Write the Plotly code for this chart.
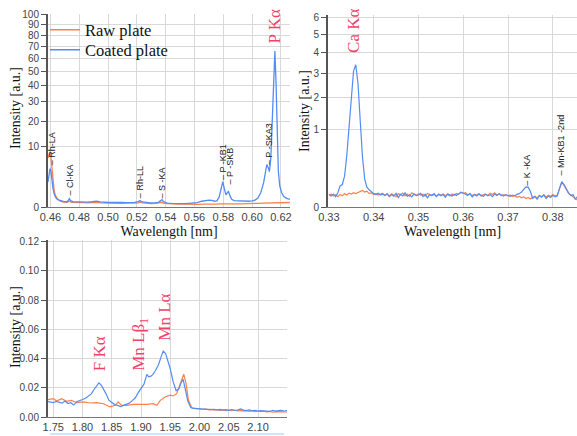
import numpy as np
import plotly.graph_objects as go

# ---------------- Panel A: P region (0.458-0.626 nm), sqrt intensity scale
wl_a_coated = [
    0.4583, 0.4590, 0.4597, 0.4603, 0.4610, 0.4617, 0.4625, 0.4635, 0.4648, 0.4665,
    0.4690, 0.4710, 0.4722, 0.4731, 0.4740, 0.4755, 0.4775, 0.4800, 0.4830, 0.4860,
    0.4890, 0.4920, 0.4945, 0.4975, 0.5005, 0.5035, 0.5065, 0.5095, 0.5125, 0.5155,
    0.5185, 0.5210, 0.5222, 0.5235, 0.5265, 0.5295, 0.5325, 0.5350, 0.5365, 0.5374,
    0.5385, 0.5410, 0.5440, 0.5470, 0.5500, 0.5530, 0.5560, 0.5590, 0.5620, 0.5650,
    0.5675, 0.5700, 0.5720, 0.5740, 0.5755, 0.5770, 0.5785, 0.5796, 0.5806, 0.5818,
    0.5828, 0.5836, 0.5846, 0.5858, 0.5875, 0.5900, 0.5925, 0.5950, 0.5975, 0.6000,
    0.6020, 0.6040, 0.6060, 0.6080, 0.6090, 0.6102, 0.6112, 0.6120, 0.6130, 0.6140,
    0.6150, 0.6158, 0.6166, 0.6174, 0.6182, 0.6192, 0.6205, 0.6220, 0.6240, 0.6262,
]
int_a_coated = [
    1.70, 2.90, 4.00, 3.60, 1.90, 1.00, 0.50, 0.26, 0.15, 0.11,
    0.085, 0.075, 0.10, 0.19, 0.11, 0.08, 0.075, 0.07, 0.072, 0.065,
    0.075, 0.095, 0.07, 0.06, 0.055, 0.06, 0.05, 0.055, 0.05, 0.05,
    0.06, 0.08, 0.11, 0.07, 0.05, 0.045, 0.05, 0.06, 0.11, 0.15,
    0.08, 0.04, 0.035, 0.03, 0.035, 0.03, 0.035, 0.04, 0.05, 0.09,
    0.12, 0.13, 0.12, 0.09, 0.10, 0.25, 0.90, 1.75, 1.00, 0.40,
    0.55, 0.65, 0.35, 0.16, 0.11, 0.10, 0.09, 0.10, 0.09, 0.10,
    0.13, 0.22, 0.55, 1.60, 3.20, 4.90, 4.20, 3.40, 6.50, 18.0,
    45.0, 66.0, 42.0, 12.0, 3.50, 1.20, 0.55, 0.30, 0.20, 0.16,
]
wl_a_raw = [
    0.4583, 0.4590, 0.4597, 0.4604, 0.4611, 0.4618, 0.4626, 0.4635, 0.4648, 0.4665,
    0.4690, 0.4715, 0.4731, 0.4745, 0.4770, 0.4800, 0.4830, 0.4860, 0.4890, 0.4920,
    0.4950, 0.4980, 0.5010, 0.5040, 0.5070, 0.5100, 0.5130, 0.5160, 0.5190, 0.5210,
    0.5222, 0.5240, 0.5270, 0.5300, 0.5330, 0.5360, 0.5374, 0.5390, 0.5420, 0.5450,
    0.5480, 0.5510, 0.5540, 0.5570, 0.5600, 0.5630, 0.5660, 0.5690, 0.5720, 0.5750,
    0.5780, 0.5810, 0.5840, 0.5870, 0.5900, 0.5930, 0.5960, 0.5990, 0.6020, 0.6050,
    0.6080, 0.6110, 0.6140, 0.6170, 0.6200, 0.6230, 0.6262,
]
int_a_raw = [
    6.5, 7.8, 8.3, 6.5, 3.5, 1.6, 0.7, 0.35, 0.18, 0.10,
    0.065, 0.060, 0.090, 0.060, 0.052, 0.048, 0.050, 0.045, 0.052, 0.060,
    0.048, 0.044, 0.040, 0.045, 0.040, 0.038, 0.042, 0.036, 0.040, 0.048,
    0.065, 0.045, 0.036, 0.032, 0.035, 0.040, 0.060, 0.035, 0.028, 0.025,
    0.022, 0.024, 0.020, 0.022, 0.020, 0.018, 0.022, 0.020, 0.024, 0.022,
    0.026, 0.024, 0.028, 0.026, 0.030, 0.028, 0.032, 0.030, 0.034, 0.036,
    0.040, 0.042, 0.046, 0.044, 0.048, 0.052, 0.055,
]

# ---------------- Panel B: Ca region (0.330-0.3855 nm), sqrt intensity scale
wl_b_start = 0.3300
wl_b_step = 0.0005
int_b_coated = [
    0.026, 0.020, 0.028, 0.018, 0.034, 0.075, 0.085, 0.16, 0.45, 1.05,
    2.05, 3.10, 3.40, 2.55, 1.25, 0.42, 0.13, 0.065, 0.050, 0.038,
    0.030, 0.026, 0.032, 0.024, 0.028, 0.022, 0.030, 0.018, 0.026, 0.020,
    0.031, 0.015, 0.027, 0.021, 0.034, 0.019, 0.025, 0.017, 0.029, 0.022,
    0.024, 0.031, 0.018, 0.027, 0.014, 0.026, 0.023, 0.030, 0.019, 0.028,
    0.021, 0.026, 0.016, 0.029, 0.024, 0.020, 0.027, 0.022, 0.030, 0.036,
    0.033, 0.028, 0.022, 0.031, 0.017, 0.026, 0.020, 0.028, 0.023, 0.019,
    0.027, 0.021, 0.025, 0.018, 0.028, 0.022, 0.030, 0.024, 0.020, 0.026,
    0.022, 0.019, 0.024, 0.021, 0.027, 0.030, 0.038, 0.050, 0.068, 0.066,
    0.040, 0.012, 0.018, 0.010, 0.022, 0.016, 0.024, 0.012, 0.020, 0.015,
    0.023, 0.017, 0.020, 0.060, 0.108, 0.080, 0.050, 0.032, 0.022, 0.026,
    0.010, 0.018,
]
int_b_raw = [
    0.024, 0.028, 0.020, 0.025, 0.018, 0.026, 0.021, 0.030, 0.024, 0.032,
    0.028, 0.034, 0.030, 0.036, 0.040, 0.046, 0.038, 0.042, 0.030, 0.034,
    0.026, 0.030, 0.024, 0.028, 0.032, 0.022, 0.027, 0.020, 0.029, 0.024,
    0.018, 0.030, 0.025, 0.033, 0.021, 0.028, 0.019, 0.034, 0.026, 0.022,
    0.030, 0.024, 0.028, 0.020, 0.031, 0.025, 0.021, 0.027, 0.018, 0.026,
    0.024, 0.029, 0.022, 0.026, 0.020, 0.028, 0.023, 0.031, 0.027, 0.038,
    0.030, 0.034, 0.025, 0.029, 0.022, 0.027, 0.024, 0.030, 0.020, 0.026,
    0.028, 0.022, 0.032, 0.026, 0.034, 0.024, 0.029, 0.021, 0.026, 0.023,
    0.020, 0.024, 0.018, 0.022, 0.016, 0.019, 0.014, 0.017, 0.012, 0.015,
    0.011, 0.016, 0.020, 0.014, 0.022, 0.018, 0.025, 0.017, 0.023, 0.019,
    0.026, 0.021, 0.024, 0.055, 0.100, 0.085, 0.055, 0.035, 0.024, 0.018,
    0.012, 0.008,
]
wl_b = [round(wl_b_start + wl_b_step * i, 4) for i in range(len(int_b_coated))]

# ---------------- Panel C: F / Mn L region (1.741-2.150 nm), linear scale
wl_c_coated = [
    1.741, 1.745, 1.750, 1.755, 1.760, 1.765, 1.770, 1.775, 1.780, 1.785,
    1.790, 1.795, 1.800, 1.805, 1.810, 1.815, 1.820, 1.825, 1.828, 1.832,
    1.836, 1.840, 1.845, 1.850, 1.855, 1.860, 1.865, 1.870, 1.875, 1.880,
    1.885, 1.890, 1.895, 1.900, 1.905, 1.910, 1.913, 1.917, 1.920, 1.925,
    1.930, 1.935, 1.938, 1.942, 1.946, 1.950, 1.955, 1.960, 1.965, 1.968,
    1.972, 1.976, 1.980, 1.985, 1.990, 1.995, 2.000, 2.005, 2.010, 2.015,
    2.020, 2.025, 2.030, 2.035, 2.040, 2.045, 2.050, 2.055, 2.060, 2.065,
    2.070, 2.075, 2.080, 2.085, 2.090, 2.095, 2.100, 2.105, 2.110, 2.115,
    2.120, 2.125, 2.130, 2.135, 2.140, 2.145, 2.150,
]
int_c_coated = [
    0.0105, 0.0100, 0.0098, 0.0107, 0.0100, 0.0095, 0.0110, 0.0092, 0.0098, 0.0082,
    0.0105, 0.0115, 0.0120, 0.0128, 0.0142, 0.0158, 0.0190, 0.0222, 0.0234, 0.0218,
    0.0190, 0.0160, 0.0115, 0.0100, 0.0085, 0.0080, 0.0072, 0.0080, 0.0086, 0.0095,
    0.0112, 0.0130, 0.0165, 0.0195, 0.0225, 0.0292, 0.0275, 0.0280, 0.0290, 0.0320,
    0.0360, 0.0420, 0.0452, 0.0435, 0.0390, 0.0330, 0.0240, 0.0180, 0.0195, 0.0230,
    0.0258, 0.0190, 0.0110, 0.0065, 0.0058, 0.0057, 0.0055, 0.0056, 0.0052, 0.0054,
    0.0050, 0.0053, 0.0048, 0.0052, 0.0047, 0.0050, 0.0046, 0.0051, 0.0045, 0.0048,
    0.0055, 0.0047, 0.0044, 0.0049, 0.0043, 0.0046, 0.0040, 0.0044, 0.0042, 0.0045,
    0.0038, 0.0046, 0.0040, 0.0043, 0.0045, 0.0041, 0.0044,
]
wl_c_raw = [
    1.741, 1.750, 1.756, 1.764, 1.773, 1.781, 1.790, 1.801, 1.813, 1.824,
    1.836, 1.847, 1.856, 1.861, 1.867, 1.876, 1.887, 1.898, 1.910, 1.921,
    1.927, 1.933, 1.941, 1.950, 1.955, 1.961, 1.967, 1.973, 1.977, 1.981,
    1.987, 1.995, 2.000, 2.005, 2.010, 2.015, 2.020, 2.025, 2.030, 2.035,
    2.040, 2.045, 2.050, 2.055, 2.060, 2.065, 2.070, 2.075, 2.080, 2.085,
    2.090, 2.095, 2.100, 2.105, 2.110, 2.115, 2.120, 2.125, 2.130, 2.135,
    2.140, 2.145, 2.150,
]
int_c_raw = [
    0.0119, 0.0126, 0.0110, 0.0126, 0.0107, 0.0114, 0.0098, 0.0103, 0.0096, 0.0098,
    0.0091, 0.0069, 0.0080, 0.0103, 0.0080, 0.0080, 0.0087, 0.0085, 0.0087, 0.0091,
    0.0080, 0.0114, 0.0137, 0.0149, 0.0144, 0.0160, 0.0229, 0.0293, 0.0229, 0.0114,
    0.0062, 0.0056, 0.0055, 0.0053, 0.0054, 0.0050, 0.0052, 0.0047, 0.0050, 0.0045,
    0.0049, 0.0044, 0.0047, 0.0043, 0.0046, 0.0042, 0.0045, 0.0040, 0.0044, 0.0039,
    0.0042, 0.0037, 0.0041, 0.0036, 0.0040, 0.0035, 0.0038, 0.0034, 0.0037, 0.0035,
    0.0033, 0.0036, 0.0034,
]

# Tick labels
ticks_a = [0, 10, 20, 30, 40, 50, 60, 70, 80, 90, 100]
ticks_b = [0, 1, 2, 3, 4, 5, 6]
ticks_c = [0.00, 0.02, 0.04, 0.06, 0.08, 0.10, 0.12]

# Peak labels: (text, wavelength, intensity at label base)
peaks_a = [("P Kα", 0.6162, 71.2)]
peaks_b = [("Ca Kα", 0.3356, 3.88)]
peaks_c = [("F Kα", 1.828, 0.0302), ("Mn Lβ<sub>1</sub>", 1.8990, 0.0302),
           ("Mn Lα", 1.9400, 0.0508)]
lines_a = [("Rh-LA", 0.4608, 4.33), ("Cl-KA", 0.4735, 0.27), ("Rh-LL", 0.5222, 0.13),
           ("S -KA", 0.5374, 0.13), ("P -KB1", 0.5798, 1.69), ("P -SKB", 0.5840, 1.08),
           ("P -SKA3", 0.6118, 4.33)]
lines_b = [("K -KA", 0.3743, 0.061), ("Mn-KB1 -2nd", 0.3818, 0.151)]

RAW = "rgb(255,128,72)"
COATED = "rgb(84,140,245)"
LABEL = "rgb(240,66,104)"
SERIF = "Liberation Serif, Times New Roman, serif"
SANS = "Liberation Sans, Arial, sans-serif"

W, H = 577, 436


def fx(v):
    return v / W


def fy(v):
    return 1 - v / H


fig = go.Figure()

fig.add_trace(go.Scatter(x=wl_a_raw, y=np.sqrt(int_a_raw), name="Raw plate", mode="lines",
                         line=dict(color=RAW, width=1.3), xaxis="x", yaxis="y",
                         legend="legend"))
fig.add_trace(go.Scatter(x=wl_a_coated, y=np.sqrt(int_a_coated), name="Coated plate",
                         mode="lines", line=dict(color=COATED, width=1.3),
                         xaxis="x", yaxis="y", legend="legend2"))
fig.add_trace(go.Scatter(x=wl_b, y=np.sqrt(int_b_raw), mode="lines", showlegend=False,
                         line=dict(color=RAW, width=1.2), xaxis="x2", yaxis="y2"))
fig.add_trace(go.Scatter(x=wl_b, y=np.sqrt(int_b_coated), mode="lines", showlegend=False,
                         line=dict(color=COATED, width=1.2), xaxis="x2", yaxis="y2"))
fig.add_trace(go.Scatter(x=wl_c_raw, y=int_c_raw, mode="lines", showlegend=False,
                         line=dict(color=RAW, width=1.2), xaxis="x3", yaxis="y3"))
fig.add_trace(go.Scatter(x=wl_c_coated, y=int_c_coated, mode="lines", showlegend=False,
                         line=dict(color=COATED, width=1.2), xaxis="x3", yaxis="y3"))

xtickfont = dict(family=SANS, size=11, color="#444")
ytickfont = dict(family=SANS, size=10, color="#444")
titlefont = dict(family=SERIF, size=14, color="#111")

common_x = dict(showgrid=True, gridcolor="#d9d9d9", gridwidth=1, showline=True,
                linecolor="#777", linewidth=1, ticks="", tickfont=xtickfont,
                zeroline=False, automargin=False)
common_y = dict(showgrid=True, gridcolor="#d9d9d9", gridwidth=1, showline=True,
                linecolor="#555", linewidth=2, ticks="outside", ticklen=5,
                tickcolor="#555", tickfont=ytickfont, zeroline=False, automargin=False)

legend_style = dict(xanchor="left", yanchor="middle", bgcolor="rgba(0,0,0,0)",
                    font=dict(family=SERIF, size=16.5, color="#111"), itemwidth=30)

fig.update_layout(
    width=W, height=H, margin=dict(l=0, r=0, t=0, b=0, autoexpand=False),
    paper_bgcolor="white", plot_bgcolor="white",
    showlegend=True,
    legend=dict(legend_style, x=fx(45), y=fy(30)),
    legend2=dict(legend_style, x=fx(45), y=fy(50)),
    xaxis=dict(common_x, domain=[fx(48), fx(290)], range=[0.4583, 0.6263],
               tickvals=[0.46, 0.48, 0.50, 0.52, 0.54, 0.56, 0.58, 0.60, 0.62],
               tickformat=".2f", anchor="y",
               title=dict(text="Wavelength [nm]", font=titlefont, standoff=3)),
    yaxis=dict(common_y, domain=[fy(207), fy(14)], range=[0, 10.05],
               tickvals=list(np.sqrt(ticks_a)), ticktext=[str(t) for t in ticks_a],
               anchor="x"),
    xaxis2=dict(common_x, domain=[fx(328), 1.0], range=[0.3298, 0.3854],
                tickvals=[0.33, 0.34, 0.35, 0.36, 0.37, 0.38], tickformat=".2f",
                anchor="y2",
                title=dict(text="Wavelength [nm]", font=titlefont, standoff=3)),
    yaxis2=dict(common_y, domain=[fy(207), fy(15)], range=[0, 2.488],
                tickvals=list(np.sqrt(ticks_b)), ticktext=[str(t) for t in ticks_b],
                anchor="x2"),
    xaxis3=dict(common_x, domain=[fx(48), fx(287)], range=[1.741, 2.1495],
                tickvals=[1.75, 1.80, 1.85, 1.90, 1.95, 2.00, 2.05, 2.10],
                tickformat=".2f", anchor="y3"),
    yaxis3=dict(common_y, domain=[fy(417), fy(240)], range=[0, 0.1212],
                tickvals=ticks_c, tickformat=".2f", anchor="x3"),
)

annotations = []
for text, x, y in peaks_a:
    annotations.append(dict(text=text, x=x, y=np.sqrt(y), xref="x", yref="y"))
for text, x, y in peaks_b:
    annotations.append(dict(text=text, x=x, y=np.sqrt(y), xref="x2", yref="y2"))
for text, x, y in peaks_c:
    annotations.append(dict(text=text, x=x, y=y, xref="x3", yref="y3"))
for a in annotations:
    a.update(showarrow=False, textangle=-90, xanchor="center", yanchor="bottom",
             font=dict(family=SERIF, size=17, color=LABEL))

small = dict(showarrow=False, textangle=-90, xanchor="center", yanchor="bottom",
             font=dict(family=SANS, size=9, color="#222"))
for text, x, y in lines_a:
    annotations.append(dict(small, text="– " + text, x=x, y=np.sqrt(y), xref="x", yref="y"))
for text, x, y in lines_b:
    annotations.append(dict(small, text="– " + text, x=x, y=np.sqrt(y), xref="x2", yref="y2"))

# vertical intensity titles, placed in page coordinates
for cx, cy in [(15, 108), (305, 111), (15, 327)]:
    annotations.append(dict(text="Intensity [a.u.]", xref="paper", yref="paper",
                            x=fx(cx), y=fy(cy), xanchor="center", yanchor="middle",
                            showarrow=False, textangle=-90, font=titlefont))

fig.update_layout(annotations=annotations)

# white backing behind the legend (hides gridlines only)
fig.add_shape(type="rect", xref="paper", yref="paper", x0=fx(50), x1=fx(170),
              y0=fy(63), y1=fy(15), fillcolor="white", line=dict(width=0),
              layer="between")

# thin pale rule under the lower panel
fig.add_shape(type="line", xref="paper", yref="paper", x0=fx(50), x1=fx(284),
              y0=fy(434), y1=fy(434), line=dict(color="rgb(205,230,250)", width=2))

fig.write_html("out.html")
